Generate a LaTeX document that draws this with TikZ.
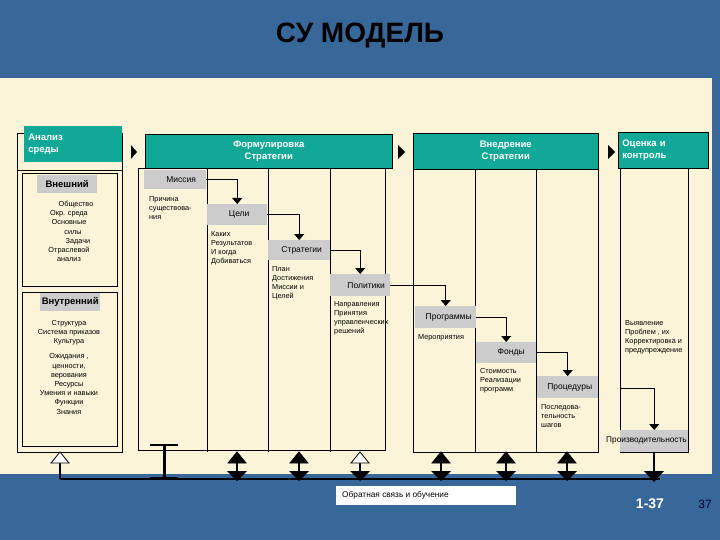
\documentclass[tikz,border=0pt]{standalone}
\usepackage{fontspec}
\setmainfont{Liberation Sans}
\usetikzlibrary{arrows.meta}
\definecolor{bluebg}{HTML}{38689A}
\definecolor{cream}{HTML}{FCF4D8}
\definecolor{teal}{HTML}{12A898}
\definecolor{lgray}{HTML}{CCCCCC}
\begin{document}
\begin{tikzpicture}[x=1pt,y=-1pt,
  hdr/.style={fill=teal,draw=black,line width=0.6pt,text=white,font=\bfseries\fontsize{9.5}{11.5}\selectfont,align=center,anchor=north west,inner sep=0pt},
  lab/.style={fill=lgray,font=\fontsize{8.5}{10}\selectfont,anchor=north west,inner sep=0pt,minimum height=20pt},
  txt/.style={font=\fontsize{7.3}{9}\selectfont,align=left,anchor=north west,inner sep=0pt},
  ctxt/.style={font=\fontsize{7.3}{9.2}\selectfont,align=center,anchor=north,inner sep=0pt},
  frm/.style={draw=black,line width=0.7pt},
  arr/.style={line width=0.8pt,-{Triangle[width=10pt,length=6pt]}},
  tri/.style={fill=black}]
\useasboundingbox (0,0) rectangle (720,540);
\fill[bluebg] (0,0) rectangle (720,540);
\fill[cream] (0,78) rectangle (712,474);
\node[font=\bfseries\fontsize{28}{32}\selectfont] (title) at (360,36) {СУ МОДЕЛЬ};

% left block
\draw[frm] (17,133) rectangle (122,452);
\draw[frm] (17,170) -- (122,170);
\node[hdr,minimum width=98pt,minimum height=36pt,draw=none,align=left,text width=90pt,inner xsep=4pt] (anal) at (24,126) {Анализ\\среды};
\draw[frm] (22,173) rectangle (117,286);
\node[lab,minimum width=60pt,font=\bfseries\fontsize{9.5}{11}\selectfont,minimum height=18pt] (vn) at (37,175) {Внешний};
\node[ctxt] (vnt) at (69,201) {\hspace*{14pt}Общество\\Окр. среда\\Основные\\\hspace*{8pt}силы\\\hspace*{18pt}Задачи\\Отраслевой\\анализ};
\draw[frm] (22,292) rectangle (117,446);
\node[lab,minimum width=60pt,font=\bfseries\fontsize{9.5}{11}\selectfont,minimum height=18pt] (vnu) at (40,293) {Внутренний};
\node[ctxt] (vnut) at (69,320) {Структура\\Система приказов\\Культура\\[6pt]Ожидания ,\\ценности,\\верования\\Ресурсы\\Умения и навыки\\Функции\\Знания};

% header arrows
\fill[tri] (131,145) -- (137,152) -- (131,159) -- cycle;
\fill[tri] (398,145) -- (405,152) -- (398,159) -- cycle;
\fill[tri] (608,145) -- (615,152) -- (608,159) -- cycle;

% formulation
\node[hdr,minimum width=247pt,minimum height=34pt] (form) at (145,134) {Формулировка\\Стратегии};
\draw[frm] (138,168) -- (138,450) -- (385,450) -- (385,168) -- (138,168);
\foreach \x in {207,268,330} \draw[frm] (\x,168) -- (\x,452);
\node[lab,minimum width=62pt,minimum height=19pt] (mis) at (144,170) {\hspace*{12pt}Миссия};
\node[txt] (mist) at (149,196) {Причина\\существова-\\ния};
\node[lab,minimum width=60pt,minimum height=21pt] (cel) at (207,204) {\hspace*{4pt}Цели};
\node[txt] (celt) at (211,231) {Каких\\Результатов\\И когда\\Добиваться};
\node[lab,minimum width=62pt,minimum height=20pt] (str) at (268,240) {\hspace*{5pt}Стратегии};
\node[txt] (strt) at (272,266) {План\\Достижения\\Миссии и\\Целей};
\node[lab,minimum width=60pt,minimum height=22pt] (pol) at (330,274) {\hspace*{12pt}Политики};
\node[txt] (polt) at (334,301) {Направления\\Принятия\\управленческих\\решений};
\draw[arr] (mis.east) -| (cel.north);
\draw[arr] (cel.east) -| (str.north);
\draw[arr] (str.east) -| (pol.north);

% implementation
\node[hdr,minimum width=185pt,minimum height=36pt] (vned) at (413,133) {Внедрение\\Стратегии};
\draw[frm] (413,169) -- (413,452) -- (598,452) -- (598,169);
\foreach \x in {475,536} \draw[frm] (\x,169) -- (\x,452);
\node[lab,minimum width=61pt,minimum height=22pt] (prog) at (415,306) {\hspace*{6pt}Программы};
\node[txt] (progt) at (418,334) {Мероприятия};
\node[lab,minimum width=60pt,minimum height=21pt] (fond) at (476,342) {\hspace*{10pt}Фонды};
\node[txt] (fondt) at (480,368) {Стоимость\\Реализации\\программ};
\node[lab,minimum width=61pt,minimum height=22pt] (proc) at (537,376) {\hspace*{4pt}Процедуры};
\node[txt] (proct) at (541,404) {Последова-\\тельность\\шагов};
\draw[arr] (pol.east) -| (prog.north);
\draw[arr] (prog.east) -| (fond.north);
\draw[arr] (fond.east) -| (proc.north);

% evaluation
\node[hdr,minimum width=90pt,minimum height=36pt,align=left,text width=82pt,inner xsep=4pt] (ocen) at (618,132) {Оценка и\\контроль};
\draw[frm] (620,168) -- (620,452) -- (688,452) -- (688,168);
\node[txt] (ocent) at (625,320) {Выявление\\Проблем , их\\Корректировка и\\предупреждение};
\node[lab,minimum width=68pt,minimum height=22pt] (proizv) at (620,430) {};
\node[font=\fontsize{8.3}{10}\selectfont,anchor=west,inner sep=0pt] (proizvt) at (606,441) {Производительность};
\coordinate (oc1) at (620,388);
\draw[arr] (oc1) -| (proizv.north);

% bottom feedback
\coordinate (bl) at (60,479);
\coordinate (br) at (660,479);
\draw[line width=1.4pt] (bl) -- (br);
\draw[line width=1.2pt] (60,479) -- (60,456);
\draw[fill=white,line width=0.8pt] (51,463) -- (60,452) -- (69,463) -- cycle;
\draw[line width=3pt] (164,446) -- (164,478);
\draw[line width=1.5pt] (150,445) -- (178,445);
\draw[line width=1.5pt] (150,478) -- (178,478);
\foreach \x/\o in {237/black,299/black,360/white,441/black,506/black,567/black} {
  \draw[line width=1.4pt] (\x,460) -- (\x,474);
  \draw[fill=\o,draw=black,line width=0.8pt] (\x-9,463) -- (\x,452) -- (\x+9,463) -- cycle;
  \fill[black] (\x-10,471) -- (\x+10,471) -- (\x,481) -- cycle;
}
\draw[line width=1.8pt] (654,452) -- (654,474);
\fill[black] (644,471) -- (664,471) -- (654,482) -- cycle;
\node[fill=white,minimum width=180pt,minimum height=19pt,anchor=north west,inner sep=0pt] (fb) at (336,486) {};
\node[font=\fontsize{8.3}{10}\selectfont,anchor=west,inner sep=0pt] (fbt) at (342,495.5) {Обратная связь и обучение};
\node[font=\bfseries\fontsize{14}{16}\selectfont,text=white] (num) at (650,504) {1-37};
\node[font=\fontsize{12}{14}\selectfont,text=black!80!blue] (pg) at (705,504) {37};
\end{tikzpicture}
\end{document}
